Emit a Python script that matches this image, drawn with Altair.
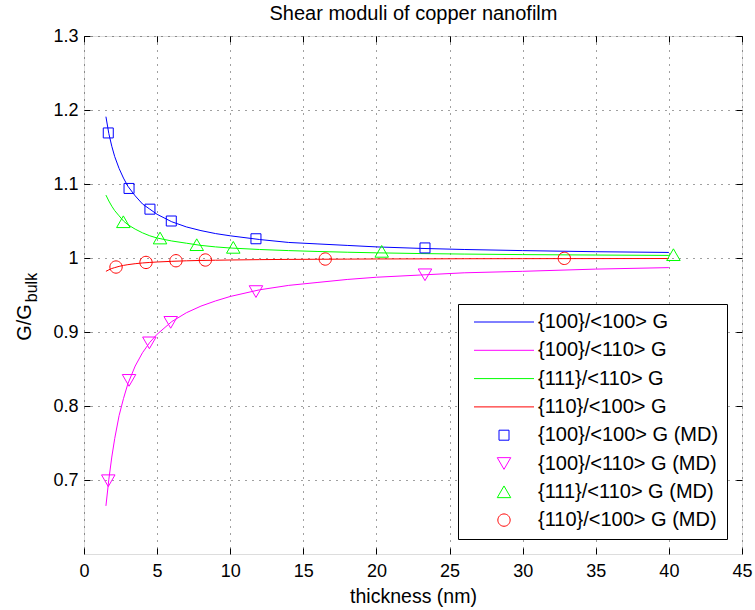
import altair as alt
import pandas as pd

FONT = "Liberation Sans"

# ---- fitted curves ----
curve_t = [1.5, 1.7, 1.9, 2.1, 2.4, 2.7, 3.0, 3.5, 4, 4.5, 5, 6, 7, 8, 9, 10,
           12, 14, 16, 18, 20, 23, 26, 30, 35, 40]
g_100_100 = [1.191, 1.168, 1.151, 1.137, 1.121, 1.108, 1.097, 1.084, 1.073, 1.066,
             1.059, 1.049, 1.042, 1.037, 1.033, 1.030, 1.025, 1.021, 1.019, 1.017,
             1.015, 1.013, 1.0115, 1.010, 1.0085, 1.0075]
g_100_110 = [0.665, 0.701, 0.731, 0.756, 0.787, 0.810, 0.830, 0.854, 0.872, 0.886,
             0.897, 0.914, 0.926, 0.935, 0.942, 0.948, 0.957, 0.963, 0.967, 0.971,
             0.974, 0.977, 0.980, 0.982, 0.985, 0.987]
g_111_110 = [1.085, 1.077, 1.070, 1.064, 1.057, 1.050, 1.045, 1.039, 1.034, 1.030,
             1.027, 1.023, 1.020, 1.017, 1.015, 1.0135, 1.0115, 1.010, 1.0088, 1.0078,
             1.007, 1.006, 1.0053, 1.0046, 1.004, 1.0035]
g_110_100 = [0.982, 0.984, 0.9858, 0.987, 0.9887, 0.990, 0.991, 0.9923, 0.9933, 0.994,
             0.9946, 0.9955, 0.9962, 0.9967, 0.997, 0.9973, 0.9978, 0.9981, 0.9983, 0.9985,
             0.9987, 0.9988, 0.999, 0.9991, 0.9992, 0.9993]

# ---- MD data points ----
md_100_100_t = [1.66, 3.08, 4.51, 5.97, 11.76, 23.32]
md_100_100_g = [1.169, 1.094, 1.066, 1.050, 1.026, 1.0136]
md_100_110_t = [1.66, 3.08, 4.47, 5.93, 11.76, 23.32]
md_100_110_g = [0.699, 0.8346, 0.8853, 0.913, 0.9546, 0.9773]
md_111_110_t = [2.69, 5.20, 7.71, 10.21, 20.36, 40.31]
md_111_110_g = [1.049, 1.027, 1.018, 1.0144, 1.009, 1.0045]
md_110_100_t = [2.19, 4.24, 6.29, 8.30, 16.5, 32.85]
md_110_100_g = [0.9878, 0.994, 0.9963, 0.9973, 0.9986, 0.9995]

line_labels = ["{100}/<100> G", "{100}/<110> G", "{111}/<110> G", "{110}/<100> G"]
md_labels = [l + " (MD)" for l in line_labels]
all_labels = line_labels + md_labels
series_colors = ["#0000ff", "#ff00ff", "#00ff00", "#ff0000"]

x_ticks = [0, 5, 10, 15, 20, 25, 30, 35, 40, 45]
y_ticks = [0.7, 0.8, 0.9, 1.0, 1.1, 1.2, 1.3]

chart_title = "Shear moduli of copper nanofilm"

# ---- tables ----
line_rows = []
for lab, ys in zip(line_labels, [g_100_100, g_100_110, g_111_110, g_110_100]):
    for t, g in zip(curve_t, ys):
        line_rows.append({"t": t, "g": g, "label": lab})
line_df = pd.DataFrame(line_rows)

md_rows = []
for lab, ts, gs in zip(md_labels,
                       [md_100_100_t, md_100_110_t, md_111_110_t, md_110_100_t],
                       [md_100_100_g, md_100_110_g, md_111_110_g, md_110_100_g]):
    for t, g in zip(ts, gs):
        md_rows.append({"t": t, "g": g, "label": lab})
md_df = pd.DataFrame(md_rows)

W, H = 658, 518

line_path = "M-6,0H6"
square_path = "M-1,-1H1V1H-1Z"
tri_down_path = "M-1.35,-1.17H1.35L0,1.17Z"
tri_up_path = "M0,-1.17L1.35,1.17H-1.35Z"
circle_path = "M1.23,0A1.23,1.23,0,1,1,-1.23,0A1.23,1.23,0,1,1,1.23,0Z"

color_scale = alt.Scale(domain=all_labels, range=series_colors * 2)
shape_scale = alt.Scale(domain=all_labels,
                        range=[line_path] * 4 + [square_path, tri_down_path, tri_up_path, circle_path])
xs = alt.Scale(domain=[0, 45], nice=False, zero=False)
ysc = alt.Scale(domain=[0.6, 1.3], nice=False, zero=False)

GRID_DASH = [1, 6]


def legend_cfg():
    return alt.Legend(
        orient="none", legendX=374, legendY=268, title=None, direction="vertical",
        labelFont=FONT, labelFontSize=20, labelColor="#000000", labelLimit=400,
        symbolStrokeWidth=1, symbolSize=100, symbolFillColor="transparent",
        strokeColor="#000000", fillColor="#ffffff", padding=8, rowPadding=8.3,
        symbolOffset=28, labelOffset=24)


lines = alt.Chart(line_df).mark_line(strokeWidth=1).encode(
    x=alt.X("t:Q", scale=xs, axis=alt.Axis(
        orient="bottom", values=x_ticks, grid=True, gridDash=GRID_DASH, gridColor="#000000",
        gridOpacity=0.75, ticks=False, tickSize=0, domain=False, labelFontSize=18,
        labelPadding=8, labelFlush=False, labelOverlap=False, title="thickness (nm)",
        titleFontSize=19.5, titleFontWeight="normal", titlePadding=7)),
    y=alt.Y("g:Q", scale=ysc, axis=alt.Axis(
        orient="left", values=y_ticks, format=".1~f", grid=True, gridDash=GRID_DASH,
        gridColor="#000000", gridOpacity=0.75, ticks=False, tickSize=0, domain=False,
        labelFontSize=18, labelPadding=6, labelFlush=False, labelOverlap=False,
        title="G/G", titleFontSize=20, titleFontWeight="normal", titleAngle=270,
        titleAlign="center", titleBaseline="middle", titleX=-60, titleY=286)),
    color=alt.Color("label:N", scale=color_scale, legend=legend_cfg()),
    detail="label:N",
)

points = alt.Chart(md_df).mark_point(filled=False, strokeWidth=1, size=100, opacity=1).encode(
    x=alt.X("t:Q", scale=xs, axis=alt.Axis(
        orient="top", offset=-H, values=x_ticks, labels=False, ticks=True, tickSize=6,
        tickColor="#000000", grid=False, domain=False, title=None)),
    y=alt.Y("g:Q", scale=ysc, axis=alt.Axis(
        orient="right", offset=-W, values=y_ticks, labels=False, ticks=True, tickSize=6,
        tickColor="#000000", grid=False, domain=False, title=None)),
    color=alt.Color("label:N", scale=color_scale, legend=legend_cfg()),
    shape=alt.Shape("label:N", scale=shape_scale, legend=legend_cfg()),
)

frame_ticks = alt.Chart(md_df).mark_point(opacity=0).encode(
    x=alt.X("t:Q", scale=xs, axis=alt.Axis(
        orient="bottom", offset=-H, values=x_ticks, labels=False, ticks=True, tickSize=6,
        tickColor="#000000", grid=False, domain=False, title=None)),
    y=alt.Y("g:Q", scale=ysc, axis=alt.Axis(
        orient="left", offset=-W, values=y_ticks, labels=False, ticks=True, tickSize=6,
        tickColor="#000000", grid=False, domain=False, title=None)),
)

# carries the subscript of the y title and the chart title
annot = alt.Chart(md_df).mark_point(opacity=0).encode(
    x=alt.X("t:Q", scale=xs, axis=alt.Axis(
        orient="top", labels=False, ticks=False, grid=False, domain=False,
        title=chart_title, titleFontSize=20, titleFontWeight="normal",
        titleAlign="center", titleBaseline="middle", titleX=W / 2, titleY=-23)),
    y=alt.Y("g:Q", scale=ysc, axis=alt.Axis(
        orient="left", labels=False, ticks=False, grid=False, domain=False,
        title="bulk", titleFontSize=16, titleFontWeight="normal", titleAngle=270,
        titleAlign="center", titleBaseline="middle", titleX=-53, titleY=251)),
)

chart = alt.layer(lines, points, frame_ticks, annot).resolve_axis(
    x="independent", y="independent"
).properties(
    width=W, height=H,
    padding={"left": 84, "top": 36, "right": 13, "bottom": 56},
    autosize=alt.AutoSizeParams(type="none"),
).configure_view(
    stroke="#000000", strokeWidth=1
).configure_axis(
    labelFont=FONT, titleFont=FONT, labelColor="#000000", titleColor="#000000"
).configure(background="#ffffff")

chart.save("out.html", embed_options={"renderer": "svg", "actions": False})
